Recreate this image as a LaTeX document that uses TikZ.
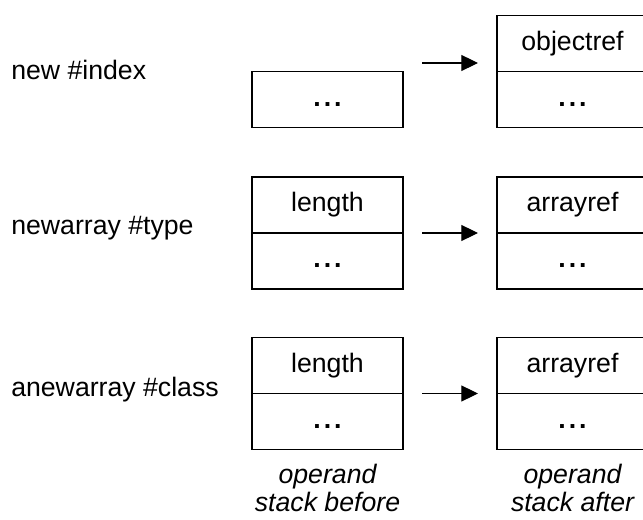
\documentclass[tikz,border=0pt]{standalone}
\usepackage{fontspec}
\setmainfont{Liberation Sans}
\usetikzlibrary{arrows.meta, positioning}

\newcommand{\stackrest}{\vphantom{bg}\textbf{.\kern2.2pt.\kern2.2pt.}}

\tikzset{
	cell/.style={draw, line width=1pt, minimum width=113.25pt, minimum height=42pt,
		inner sep=0pt, outer sep=0pt, font=\fontsize{20}{24}\selectfont},
	oplabel/.style={inner sep=0pt, anchor=base west, font=\fontsize{20}{24}\selectfont},
	stacklabel/.style={inner sep=0pt, anchor=north, align=center,
		font=\fontsize{20}{20.5}\selectfont\itshape},
	arr/.style={line width=0.8pt, -{Triangle[length=12.5pt,width=12pt]}}
}

\begin{document}
\begin{tikzpicture}[x=0.75pt,y=-0.75pt]
	\useasboundingbox (0,0) rectangle (643,520);

	% new
	\node[oplabel] (opnew) at (11,80) {new \#index};
	\node[cell] (dotsA) at (327.5,99.5) {\stackrest};
	\node[cell] (rdotsA) at (572.5,99.5) {\stackrest};
	\node[cell, above=0pt of rdotsA] (objref) {objectref};
	\coordinate (arrAs) at (422,63);
	\coordinate (arrAe) at (478,63);
	\draw[arr] (arrAs) -- (arrAe);

	% newarray
	\node[oplabel] (opnewarr) at (11,235) {newarray \#type};
	\node[cell] (dotsB) at (327.5,261) {\stackrest};
	\node[cell, above=0pt of dotsB] (lenB) {length};
	\node[cell] (rdotsB) at (572.5,261) {\stackrest};
	\node[cell, above=0pt of rdotsB] (arrrefB) {arrayref};
	\draw[arr] ([xshift=14.25pt]dotsB.north east) -- ([xshift=-14.25pt]rdotsB.north west);

	% anewarray
	\node[oplabel] (opanewarr) at (11,397) {anewarray \#class};
	\node[cell] (dotsC) at (327.5,421.5) {\stackrest};
	\node[cell, above=0pt of dotsC] (lenC) {length};
	\node[cell] (rdotsC) at (572.5,421.5) {\stackrest};
	\node[cell, above=0pt of rdotsC] (arrrefC) {arrayref};
	\draw[arr] ([xshift=14.25pt]dotsC.north east) -- ([xshift=-14.25pt]rdotsC.north west);

	% captions under the stacks
	\node[stacklabel, below=11pt of dotsC] (before) {operand\\stack before};
	\node[stacklabel, below=11pt of rdotsC] (after) {operand\\stack after};
\end{tikzpicture}
\end{document}
